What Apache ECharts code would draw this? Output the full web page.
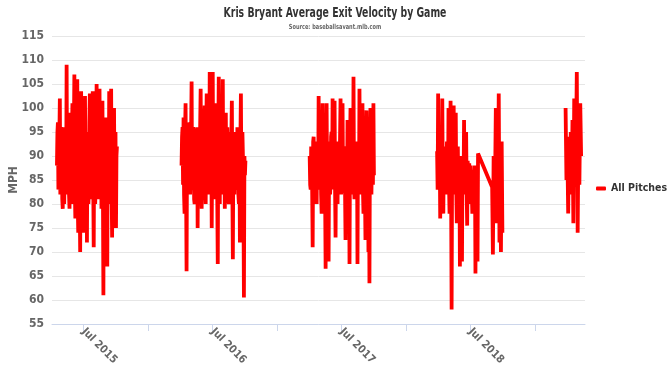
<!DOCTYPE html>
<html>
<head>
<meta charset="utf-8">
<script src="https://cdn.jsdelivr.net/npm/echarts@6/dist/echarts.min.js"></script>
<style>
  html, body { margin: 0; padding: 0; background: #fff; }
  #chart { width: 670px; height: 377px; }
</style>
</head>
<body>
<div id="chart"></div>
<script>
// game-by-game average exit velocity (mph)
const vals2015 = [88, 95, 97, 83, 84, 94, 102, 82, 82, 96, 95, 81, 79, 93, 92, 80, 80, 96, 96, 83,
  109, 82, 84, 97, 99, 82, 79, 94, 93, 81, 86, 95, 101, 80, 82, 96, 107, 83, 77, 95,
  94, 82, 106, 80, 74, 96, 97, 81, 70, 94, 103.5, 82, 85, 96, 74, 93, 96, 80, 102.5, 84,
  80, 95, 72, 93, 95, 80, 83, 97, 103, 82, 88, 95, 97, 81, 103.5, 84, 71, 95, 92, 80,
  84, 96, 105, 82, 82, 97, 96, 81, 104, 83, 86, 96, 79, 94, 101.5, 83, 61, 95, 94, 82,
  83, 96, 98, 80, 67, 94, 90, 83, 103.5, 82, 80, 96, 104, 83, 73, 94, 93, 81, 100, 83,
  82, 95, 75, 90, 92];
const vals2016 = [88, 94, 96, 84, 98, 82, 78, 95, 101, 84, 66, 94, 92, 82, 84, 96, 97, 82, 86, 95,
  105.5, 83, 84, 96, 95, 81, 80, 94, 93, 82, 83, 96, 75, 92, 94, 81, 88, 96, 104, 84,
  79, 95, 96, 81, 82, 97, 100.5, 83, 80, 95, 103, 82, 86, 96, 97, 83, 107.5, 84, 82, 96,
  75, 94, 107.5, 83, 81, 96, 101, 82, 87, 95, 95, 81, 67.5, 93, 106.5, 84, 80, 96, 97, 82,
  85, 94, 106, 83, 90, 95, 79, 93, 99, 82, 84, 96, 96, 81, 80, 95, 92, 82, 87, 94,
  101.5, 83, 68.5, 92, 90, 82, 82, 95, 93, 83, 85, 96, 95, 82, 80, 94, 72, 93, 103, 84,
  84, 95, 90, 82, 60.5, 90, 86, 89];
const vals2017 = [90, 84, 83, 92, 92, 83, 71, 93, 94, 82, 84, 92, 93, 82, 80, 93, 89, 83, 102.5, 84,
  84, 93, 92, 82, 78, 92, 101, 83, 86, 93, 91, 82, 66.5, 92, 101, 84, 83, 93, 68, 91,
  92, 82, 85, 94, 95, 83, 102, 84, 84, 93, 101.5, 83, 73, 92, 90, 82, 80, 93, 93, 83,
  86, 94, 102, 82, 83, 93, 101, 84, 88, 92, 92, 83, 72.5, 91, 91, 82, 97.5, 84, 82, 93,
  67.5, 92, 100, 83, 85, 93, 93, 82, 106.5, 84, 81, 92, 90, 83, 84, 93, 67.5, 91, 92, 82,
  104, 84, 86, 93, 93, 82, 101, 83, 78, 92, 88, 83, 72.5, 93, 99.5, 84, 83, 92, 70, 90,
  63.5, 92, 100, 83, 82, 91, 91, 84, 101, 86];
const vals2018a = [91, 83, 103, 84, 85, 92, 77, 91, 94, 83, 102, 84, 78, 92, 88, 83, 91.5, 82, 85, 93,
  92, 83, 100, 84, 78, 92, 101.5, 83, 58, 90, 95, 82, 100.5, 84, 84, 92, 99, 83, 76, 91,
  92, 82, 84, 90, 67, 88, 89, 82, 68, 90, 86, 83, 97.5, 84, 82, 92, 95, 83, 75.5, 89,
  86, 82, 88.5, 83, 80, 88, 84, 82, 78, 87, 86, 82, 82, 88, 65.5, 88, 88, 82, 68, 90.5];
const vals2018b = [83.5, 69.5, 90, 82, 85, 100, 76, 92, 84, 103, 72, 88, 70, 93, 74];
const vals2019 = [100, 85, 92, 78, 94, 88, 95, 82, 97.5, 76, 102, 84, 90, 107.5, 74, 95, 84, 101, 90];

// stretches of games (first game, last game); a gap is left after each season
const segments = [vals2015, vals2016, vals2017, vals2018a, vals2018b, vals2019];
const segStart = ['2015-04-17', '2016-04-04', '2017-04-02', '2018-03-29', '2018-09-01', '2019-03-28'];
const segEnd = ['2015-10-04', '2016-10-02', '2017-10-01', '2018-07-23', '2018-09-30', '2019-05-11'];
const gapAfter = [true, true, true, false, true, false];

const tickYears = [2015, 2016, 2017, 2018, 2019];
const yTicks = { min: 55, max: 115, step: 5 };

function ts(s) {
    const p = s.split('-');
    return new Date(+p[0], +p[1] - 1, +p[2]).getTime();
}

const data = [];
segments.forEach(function (vals, k) {
    const a = ts(segStart[k]), b = ts(segEnd[k]);
    const step = (b - a) / (vals.length - 1);
    vals.forEach(function (v, i) {
        data.push([a + i * step, v]);
    });
    if (gapAfter[k]) data.push([b + 86400000 * 5, '-']);
});

const julys = tickYears.slice(0, 4).map(y => new Date(y, 6, 1).getTime());
const halfYears = [];
tickYears.forEach(y => {
    halfYears.push(new Date(y, 0, 1).getTime());
    if (y < 2019) halfYears.push(new Date(y, 6, 1).getTime());
});
halfYears.shift(); // Jan 2015 is off the axis

const font = "'DejaVu Sans Condensed', 'Roboto', sans-serif";

const chart = echarts.init(document.getElementById('chart'), null, { renderer: 'canvas' });
chart.setOption({
    animation: false,
    backgroundColor: '#ffffff',
    // title drawn as text squeezed sideways, the original uses a condensed face
    graphic: [{
        type: 'text', x: 335, y: 13, scaleX: 0.74,
        style: {
            text: 'Kris Bryant Average Exit Velocity by Game',
            font: 'bold 14px ' + font, fill: '#333333',
            align: 'center', verticalAlign: 'middle'
        }
    }, {
        type: 'text', x: 335, y: 27, scaleX: 0.8,
        style: {
            text: 'Source: baseballsavant.mlb.com',
            font: 'bold 7px ' + font, fill: '#666666',
            align: 'center', verticalAlign: 'middle'
        }
    }],
    legend: {
        left: 591,
        top: 'middle',
        orient: 'vertical',
        icon: 'roundRect',
        itemWidth: 10,
        itemHeight: 4,
        itemGap: 4,
        textStyle: { fontFamily: font, fontWeight: 'bold', fontSize: 10.5, color: '#333333' },
        data: ['All Pitches']
    },
    grid: { left: 52, right: 85, top: 36, bottom: 53, containLabel: false, outerBoundsMode: 'none' },
    xAxis: {
        type: 'value',
        min: ts('2015-04-03'),
        max: ts('2019-05-22'),
        splitLine: { show: false },
        axisLine: { show: true, lineStyle: { color: '#ccd6eb', width: 1 } },
        axisTick: { show: true, customValues: halfYears, length: 7, lineStyle: { color: '#ccd6eb' } },
        axisLabel: {
            customValues: julys,
            rotate: -45,
            margin: 6,
            fontFamily: font,
            fontWeight: 'bold',
            fontSize: 11,
            color: '#666666',
            formatter: function (v) { return 'Jul ' + new Date(v).getFullYear(); }
        }
    },
    yAxis: {
        type: 'value',
        min: yTicks.min,
        max: yTicks.max,
        interval: yTicks.step,
        name: 'MPH',
        nameLocation: 'middle',
        nameGap: 32,
        nameMoveOverlap: false,
        nameTextStyle: { fontFamily: font, fontWeight: 'bold', fontSize: 12, color: '#666666' },
        axisLine: { show: false },
        axisTick: { show: false },
        axisLabel: { margin: 8, fontFamily: font, fontWeight: 'bold', fontSize: 12, color: '#666666' },
        splitLine: { lineStyle: { color: '#e6e6e6', width: 1 } }
    },
    series: [{
        name: 'All Pitches',
        type: 'line',
        data: data,
        showSymbol: false,
        connectNulls: false,
        lineStyle: { color: '#ff0000', width: 3.8 },
        itemStyle: { color: '#ff0000' }
    }]
});
</script>
</body>
</html>
